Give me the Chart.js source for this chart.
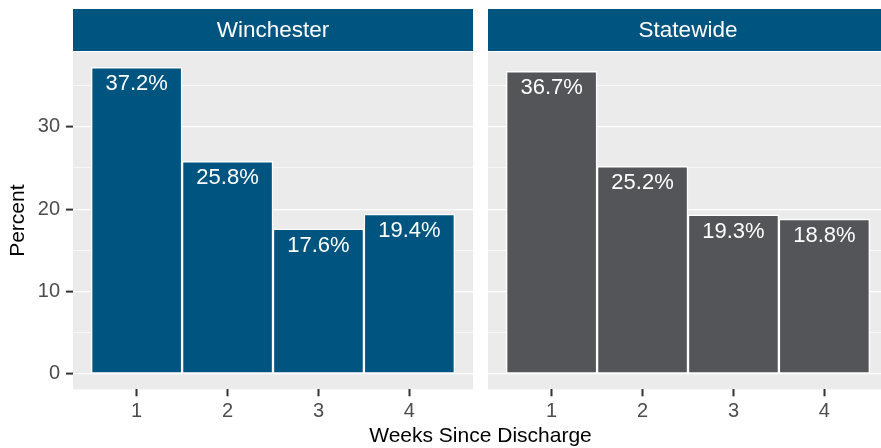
<!DOCTYPE html>
<html>
<head>
<meta charset="utf-8">
<script src="https://cdn.jsdelivr.net/npm/chart.js@4/dist/chart.umd.min.js"></script>
<style>
  html, body { margin: 0; padding: 0; background: #fff; overflow: hidden; }
  #wrap { position: relative; width: 881px; height: 448px; overflow: hidden; }
  canvas { position: absolute; top: 0; }
</style>
</head>
<body>
<div id="wrap">
  <canvas id="leftChart" width="881" height="448" style="left:0"></canvas>
  <canvas id="rightChart" width="400" height="448" style="left:488px"></canvas>
</div>
<script>
const weeks = [1, 2, 3, 4];
const winchester = [37.2, 25.8, 17.6, 19.4];
const statewide = [36.7, 25.2, 19.3, 18.8];
const panelTitles = ["Winchester", "Statewide"];
const yTicks = [0, 5, 10, 15, 20, 25, 30, 35];
const xTitle = "Weeks Since Discharge";
const yTitle = "Percent";

const FONT = "'Liberation Sans', Arial, sans-serif";
const STRIP = "#005580";
const PANEL_BG = "#EBEBEB";

// ggplot-like y range: 0..max expanded by 5%
const yMaxData = Math.max(...winchester, ...statewide);
const yMin = -0.05 * yMaxData;
const yMax = yMaxData * 1.05;

const panelPlugin = {
  id: "panel",
  beforeDraw(chart, args, opts) {
    const { ctx, chartArea: a } = chart;
    ctx.save();
    ctx.fillStyle = PANEL_BG;
    ctx.fillRect(a.left, a.top, a.right - a.left, a.bottom - a.top);
    // facet strip
    ctx.fillStyle = STRIP;
    ctx.fillRect(a.left, 9, a.right - a.left, 42);
    ctx.fillStyle = "#fff";
    ctx.font = "22.5px " + FONT;
    ctx.textAlign = "center";
    ctx.textBaseline = "middle";
    ctx.fillText(opts.title, (a.left + a.right) / 2, 31);
    ctx.restore();
  },
  afterDatasetsDraw(chart, args, opts) {
    const { ctx } = chart;
    const meta = chart.getDatasetMeta(0);
    const values = chart.data.datasets[0].data;
    ctx.save();
    ctx.fillStyle = "#fff";
    ctx.font = "22px " + FONT;
    ctx.textAlign = "center";
    ctx.textBaseline = "alphabetic";
    meta.data.forEach((bar, i) => {
      ctx.fillText(values[i].y.toFixed(1) + "%", bar.x, bar.y + 23);
    });
    // axis titles (left chart only)
    if (opts.titles) {
      ctx.fillStyle = "#000";
      ctx.font = "21px " + FONT;
      ctx.fillText(xTitle, 480.5, 442);
      ctx.translate(24, (chart.chartArea.top + chart.chartArea.bottom) / 2);
      ctx.rotate(-Math.PI / 2);
      ctx.fillText(yTitle, 0, 0);
    }
    ctx.restore();
  }
};

function makeChart(id, values, color, title, showY) {
  const ctx = document.getElementById(id).getContext("2d");
  return new Chart(ctx, {
    type: "bar",
    data: {
      datasets: [{
        data: weeks.map((w, i) => ({ x: w, y: values[i] })),
        backgroundColor: color,
        borderColor: "#fff",
        borderWidth: 1.5,
        borderSkipped: false,
        barPercentage: 1,
        categoryPercentage: 1
      }]
    },
    options: {
      responsive: false,
      animation: false,
      devicePixelRatio: 1,
      layout: { padding: { top: 52, left: 0, right: showY ? 408 : 0, bottom: 0 } },
      plugins: {
        legend: { display: false },
        tooltip: { enabled: false },
        panel: { title: title, titles: showY }
      },
      scales: {
        x: {
          type: "linear",
          min: 0.3,
          max: 4.7,
          offset: false,
          afterBuildTicks: (scale) => { scale.ticks = weeks.map(v => ({ value: v })); },
          afterFit: (scale) => { scale.height = 58.7; },
          border: { display: false },
          grid: {
            offset: false,
            drawOnChartArea: false,
            tickColor: "#333",
            tickWidth: 2,
            tickLength: 7
          },
          ticks: {
            color: "#4D4D4D",
            font: { family: FONT, size: 20 },
            padding: 3,
            autoSkip: false,
            maxRotation: 0
          }
        },
        y: {
          min: yMin,
          max: yMax,
          afterBuildTicks: (scale) => { scale.ticks = yTicks.map(v => ({ value: v })); },
          afterFit: (scale) => { scale.width = showY ? 73 : 0; },
          border: { display: false },
          grid: {
            color: "#fff",
            lineWidth: (c) => (c.tick && c.tick.value % 10 === 0 ? 1.2 : 0.6),
            drawTicks: showY,
            tickColor: (c) => (c.tick && c.tick.value % 10 === 0 ? "#333" : "rgba(0,0,0,0)"),
            tickWidth: 2,
            tickLength: 7
          },
          ticks: {
            display: showY,
            color: "#4D4D4D",
            font: { family: FONT, size: 20 },
            padding: 6,
            autoSkip: false,
            callback: (v) => (v % 10 === 0 ? String(v) : "")
          }
        }
      }
    },
    plugins: [panelPlugin]
  });
}

makeChart("leftChart", winchester, "#005580", panelTitles[0], true);
makeChart("rightChart", statewide, "#545559", panelTitles[1], false);
</script>
</body>
</html>
